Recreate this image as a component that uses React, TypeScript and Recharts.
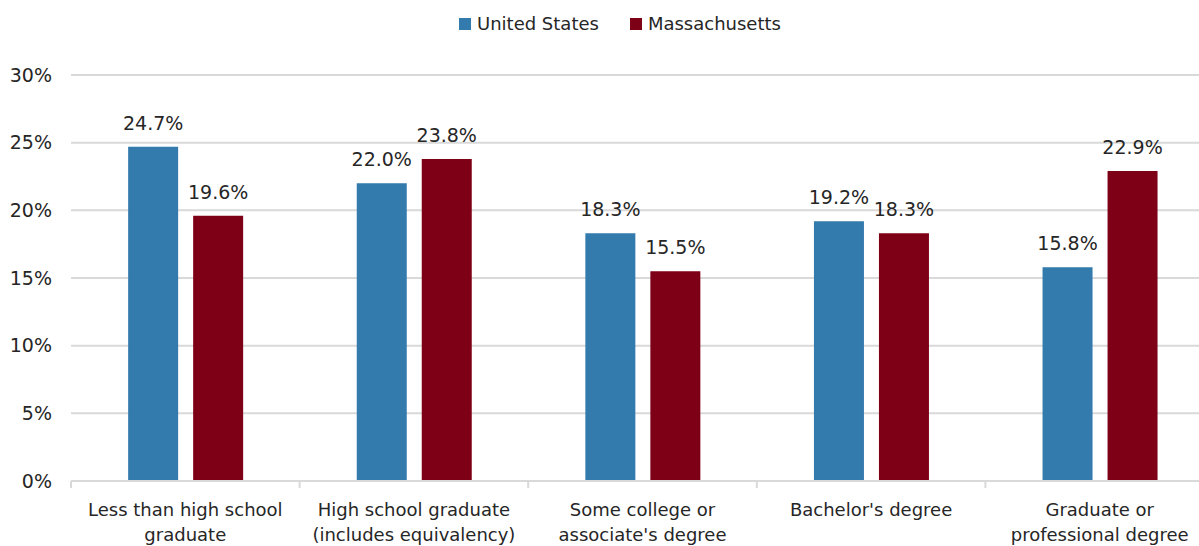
import { BarChart, Bar, XAxis, YAxis, CartesianGrid, LabelList } from 'recharts';

// Educational attainment shares, United States vs Massachusetts
const categories = [
    'Less than high school\ngraduate',
    'High school graduate\n(includes equivalency)',
    "Some college or\nassociate's degree",
    "Bachelor's degree",
    'Graduate or\nprofessional degree',
];
const seriesNames = ['United States', 'Massachusetts'];
const usValues = [24.7, 22.0, 18.3, 19.2, 15.8];
const maValues = [19.6, 23.8, 15.5, 18.3, 22.9];
const yTicks = [0, 5, 10, 15, 20, 25, 30];

const COLORS = ['#337aad', '#7e0016'];
const TEXT = '#262626';
const GRID = '#d9d9d9';
const FONT = '"DejaVu Sans", sans-serif';

const chartData = categories.map((name, i) => ({
    name,
    us: usValues[i],
    ma: maValues[i],
}));

const pct = (v: any) => `${Number(v).toFixed(1)}%`;

/**
 * Category label split over lines, with a tick mark on the left band edge
 */
function CategoryTick(props: any) {
    const { x, y, payload } = props;
    const half = payload?.offset || 114.25;
    const lines = String(payload.value).split('\n');
    return (
        <g>
            <line x1={x - half} x2={x - half} y1={y} y2={y + 7} stroke={GRID} strokeWidth={2} />
            <text x={x} y={y} textAnchor="middle" fill={TEXT} fontSize={18} fontFamily={FONT}>
                {lines.map((l, i) => (
                    <tspan key={i} x={x} dy={i === 0 ? 35 : 25}>
                        {l}
                    </tspan>
                ))}
            </text>
        </g>
    );
}

function LegendRow() {
    return (
        <div
            style={{
                position: 'absolute',
                top: 13,
                left: 459,
                display: 'flex',
                alignItems: 'center',
                fontFamily: FONT,
                fontSize: 18,
                color: TEXT,
                whiteSpace: 'nowrap',
                zIndex: 1,
            }}
        >
            {seriesNames.map((s, i) => (
                <span key={s} style={{ display: 'flex', alignItems: 'center', marginRight: 31 }}>
                    <span style={{ width: 12, height: 12, background: COLORS[i], marginRight: 6, display: 'inline-block' }} />
                    {s}
                </span>
            ))}
        </div>
    );
}

export default function App() {
    return (
        <div style={{ position: 'fixed', top: 0, left: 0, width: 1199, height: 546, overflow: 'hidden', background: '#fff' }}>
            <LegendRow />
            <BarChart
                width={1214}
                height={546}
                data={chartData}
                margin={{ top: 75, right: 0, left: 0, bottom: 0 }}
                barCategoryGap="25%"
                barGap={15}
            >
                <CartesianGrid vertical={false} stroke={GRID} strokeWidth={2} />
                <XAxis
                    dataKey="name"
                    height={65}
                    interval={0}
                    tickSize={0}
                    tickMargin={0}
                    axisLine={{ stroke: GRID, strokeWidth: 2 }}
                    tick={<CategoryTick />}
                />
                <YAxis
                    width={71}
                    domain={[0, 30]}
                    ticks={yTicks}
                    tickFormatter={(v: any) => `${v}%`}
                    axisLine={false}
                    tickLine={false}
                    tickSize={0}
                    tickMargin={19}
                    tick={{ fill: TEXT, fontSize: 19, fontFamily: FONT }}
                />
                <Bar dataKey="us" name={seriesNames[0]} fill={COLORS[0]} isAnimationActive={false}>
                    <LabelList dataKey="us" position="top" offset={17} formatter={pct} fill={TEXT} fontSize={19} fontFamily={FONT} />
                </Bar>
                <Bar dataKey="ma" name={seriesNames[1]} fill={COLORS[1]} isAnimationActive={false}>
                    <LabelList dataKey="ma" position="top" offset={17} formatter={pct} fill={TEXT} fontSize={19} fontFamily={FONT} />
                </Bar>
            </BarChart>
        </div>
    );
}
